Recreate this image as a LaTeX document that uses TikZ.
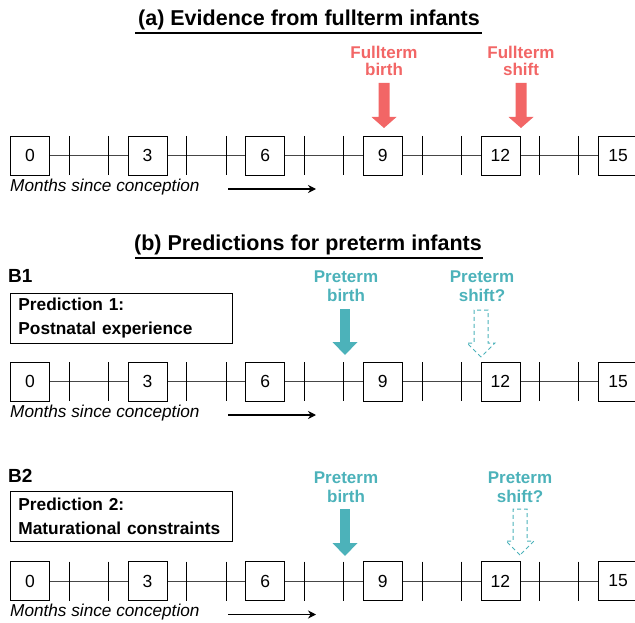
\documentclass[tikz,border=0pt]{standalone}
\usepackage{fontspec}
\setmainfont{Liberation Sans}
\usetikzlibrary{arrows.meta}
\definecolor{ftred}{RGB}{242,102,102}
\definecolor{ptteal}{RGB}{76,178,186}
\definecolor{axisgray}{RGB}{70,70,70}
\newcommand{\barrowpath}[6]{\path[#1] (#2) -- ++(-#6,-#3) -- ++({#6-#5},0) -- ++(0,-#4) -- ++({2*#5},0) -- ++(0,#4) -- ++({#6-#5},0) -- cycle;}
\tikzset{
  monthbox/.style={draw=black, line width=0.8pt, fill=white, minimum width=39pt, minimum height=39pt, inner sep=0pt, font=\fontsize{17.5}{20}\selectfont},
  tickmark/.style={line width=0.8pt, draw=black},
  axisline/.style={line width=0.8pt, draw=axisgray},
  titletext/.style={font=\bfseries\fontsize{21.5}{24}\selectfont, inner sep=0pt},
  titlerule/.style={line width=2.6pt, draw=black},
  monthtext/.style={font=\itshape\fontsize{17.2}{20}\selectfont, inner sep=0pt},
  timearrow/.style={line width=1.8pt, -{Stealth[length=8pt,width=8pt]}},
  ftlabel/.style={text=ftred, font=\bfseries\fontsize{17}{17.5}\selectfont, align=center, inner sep=0pt},
  ptlabel/.style={text=ptteal, font=\bfseries\fontsize{17}{18.5}\selectfont, align=center, inner sep=0pt},
  blabel/.style={font=\bfseries\fontsize{19}{22}\selectfont, inner sep=0pt},
  predbox/.style={draw=black, line width=0.8pt, minimum width=222pt, minimum height=50pt, text width=206pt, inner xsep=8pt, align=left, font=\bfseries\fontsize{17.3}{24}\selectfont},
  solidft/.style={fill=ftred},
  solidpt/.style={fill=ptteal},
  dashedpt/.style={draw=ptteal, line width=1pt, dash pattern=on 4pt off 3pt}
}
\begin{document}
\begin{tikzpicture}[x=1pt,y=-1pt]
\useasboundingbox (0,0) rectangle (635,623);

% Titles
\node[titletext] (ta) at (309,20) {(a) Evidence from fullterm infants};
\coordinate (ula1) at (135,33); \coordinate (ula2) at (482,33);
\draw[titlerule] (ula1) -- (ula2);
\node[titletext] (tb) at (308,245) {(b) Predictions for preterm infants};
\coordinate (ulb1) at (135,258); \coordinate (ulb2) at (483,258);
\draw[titlerule] (ulb1) -- (ulb2);

% Timelines
\foreach \r/\yy in {a/155.5, b/381.5, c/581}{
  \foreach \m/\n in {0/3,3/6,6/9,9/12,12/15}{
    \coordinate (\r l\m) at ({30+39.2*\m+19.5},\yy);
    \coordinate (\r r\m) at ({30+39.2*\n-19.5},\yy);
    \draw[axisline] (\r l\m) -- (\r r\m);
  }
  \foreach \m in {1,2,4,5,7,8,10,11,13,14}{
    \coordinate (\r t\m a) at ({30+39.2*\m},{\yy-19.5});
    \coordinate (\r t\m b) at ({30+39.2*\m},{\yy+19.5});
    \draw[tickmark] (\r t\m a) -- (\r t\m b);
  }
  \foreach \m in {0,3,6,9,12,15}{
    \node[monthbox] (\r\m) at ({30+39.2*\m},\yy) {\m};
  }
  \node[monthtext, anchor=west] (\r txt) at (10,{\yy+31.5}) {Months since conception};
  \coordinate (\r as) at (228,{\yy+33.5});
  \coordinate (\r ae) at (316,{\yy+33.5});
  \draw[timearrow] (\r as) -- (\r ae);
}

% (a) fullterm arrows
\node[ftlabel] (fbl) at (384,61) {Fullterm\\birth};
\coordinate (fbtip) at (384,128);
\barrowpath{solidft}{fbtip}{11}{34}{5.5}{12.5}
\node[ftlabel] (fsl) at (521,61) {Fullterm\\shift};
\coordinate (fstip) at (521,128);
\barrowpath{solidft}{fstip}{11}{34}{5.5}{12.5}

% B1
\node[blabel, anchor=west] (b1) at (8,276) {B1};
\node[predbox, anchor=north west] (p1) at (10,293) {Prediction 1:\\Postnatal experience};
\node[ptlabel] (pb1) at (346,286) {Preterm\\birth};
\coordinate (pb1tip) at (345,355);
\barrowpath{solidpt}{pb1tip}{13}{33}{4.8}{12.5}
\node[ptlabel] (ps1) at (482,286) {Preterm\\shift?};
\coordinate (ps1tip) at (481,357);
\barrowpath{dashedpt}{ps1tip}{14}{33}{7}{14}

% B2
\node[blabel, anchor=west] (b2) at (8,476) {B2};
\node[predbox, anchor=north west] (p2) at (10,491) {Prediction 2:\\Maturational constraints};
\node[ptlabel] (pb2) at (346,487) {Preterm\\birth};
\coordinate (pb2tip) at (345,556);
\barrowpath{solidpt}{pb2tip}{13}{34}{4.8}{12.5}
\node[ptlabel] (ps2) at (520,487) {Preterm\\shift?};
\coordinate (ps2tip) at (520,555);
\barrowpath{dashedpt}{ps2tip}{14}{32}{7}{14}
\end{tikzpicture}
\end{document}
